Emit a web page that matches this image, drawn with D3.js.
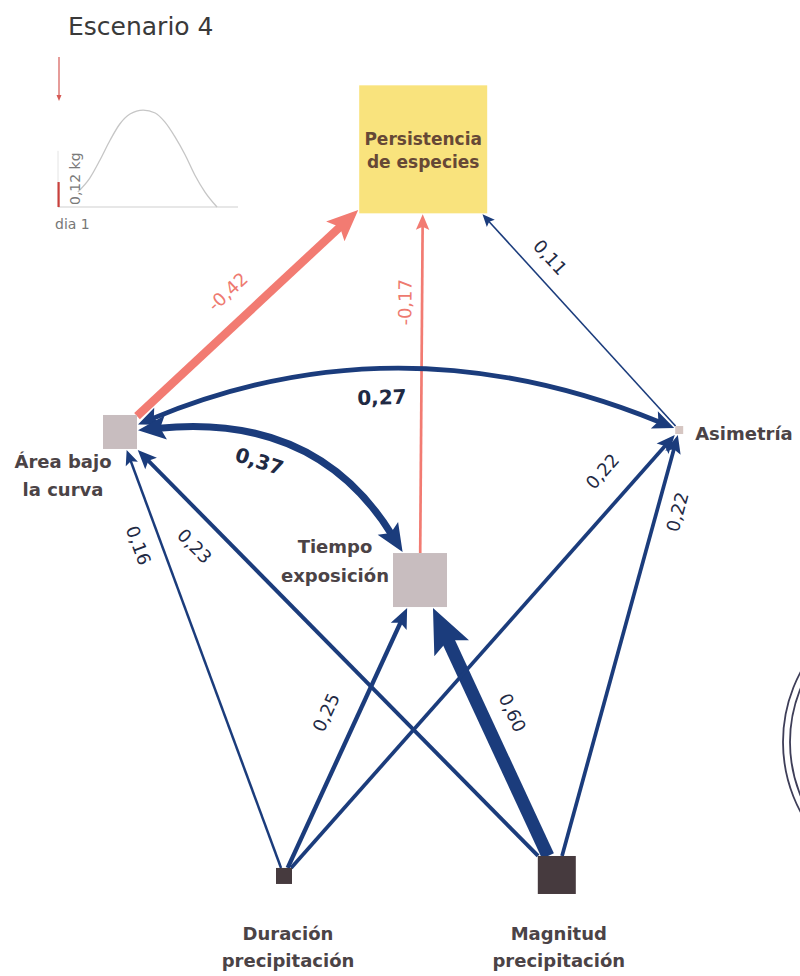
<!DOCTYPE html>
<html>
<head>
<meta charset="utf-8">
<script src="https://cdnjs.cloudflare.com/ajax/libs/d3/7.8.5/d3.min.js"></script>
<style>
body{margin:0;background:#fff;}
svg{display:block;}
</style>
</head>
<body>
<svg id="chart" width="800" height="976"></svg>
<script>
// ---- data ----
var nodeIds = ["pers", "area", "tiempo", "asim", "dur", "mag"];
var nodeLabels = [["Persistencia", "de especies"], ["Área bajo", "la curva"], ["Tiempo", "exposición"],
	["Asimetría"], ["Duración", "precipitación"], ["Magnitud", "precipitación"]];
var nodeWeight = [null, 0.34, 0.54, 0.08, 0.16, 0.38];

// direct paths (coefficients)
var pathFrom = ["area", "tiempo", "asim", "dur", "mag", "dur", "mag", "dur", "mag"];
var pathTo   = ["pers", "pers", "pers", "area", "area", "tiempo", "tiempo", "asim", "asim"];
var pathCoef = [-0.42, -0.17, 0.11, 0.16, 0.23, 0.25, 0.60, 0.22, 0.22];

// covariances (double headed arcs)
var covFrom = ["area", "area"];
var covTo   = ["asim", "tiempo"];
var covCoef = [0.27, 0.37];

// inset: scenario curve
var insetTitle = "Escenario 4";
var insetDay  = [3.3, 5.3, 7, 8.7, 10.3, 12, 14.2, 16.2, 17.8, 19.5, 21.2, 22.8, 24.5, 26.5];
var insetMass = [0.072, 0.139, 0.226, 0.322, 0.399, 0.447, 0.466, 0.452, 0.409, 0.337, 0.25, 0.154, 0.072, 0];
var insetBar = 0.12;

// ---- layout (kept apart from the data) ----
var W = 800, H = 976;
var nodePos = {pers: [0.529, 0.153], area: [0.15, 0.4426], tiempo: [0.525, 0.5943],
	asim: [0.849, 0.4406], dur: [0.355, 0.8975], mag: [0.696, 0.8965]};
var pathLabelT   = [0.5, 0.74, 0.73, 0.79, 0.81, 0.55, 0.53, 0.87, 0.83];
var pathLabelOff = [29, 17, 21, -22, -27, 30, 28, 30, -20];
var covBend = [115, 104];
var covLabelT = [0.46, 0.4];
var covLabelOff = [-26, -21];

var blue = "#1b3c7c", red = "#f27b72";
var font = "DejaVu Sans";

var svg = d3.select("#chart");
var xs = d3.scaleLinear().domain([0, 1]).range([0, W]);
var ys = d3.scaleLinear().domain([0, 1]).range([0, H]);
var sideScale = d3.scaleLinear().domain([0, 1]).range([0, 100]);
var widthScale = d3.scalePow().exponent(1.25).domain([0, 0.6]).range([0, 13]);

var nodes = {};
nodeIds.forEach(function(id, i){
	nodes[id] = {
		id: id,
		x: xs(nodePos[id][0]),
		y: ys(nodePos[id][1]),
		half: id === "pers" ? 64 : sideScale(nodeWeight[i]) / 2,
		lines: nodeLabels[i]
	};
});

// point on the square border of a node, heading toward p
var clip = function(n, p, gap){
	var dx = p[0] - n.x, dy = p[1] - n.y;
	var h = n.half + (gap || 0);
	var t = Math.min(h / Math.abs(dx || 1e-9), h / Math.abs(dy || 1e-9));
	return [n.x + dx * t, n.y + dy * t];
};

var headLen = function(w){ return 8 + 2.8 * w; };
var headPoints = function(tip, dir, w){
	var L = headLen(w), Wd = 7 + 2.4 * w;
	var px = -dir[1], py = dir[0];
	var bx = tip[0] - dir[0] * L, by = tip[1] - dir[1] * L;
	var nx = tip[0] - dir[0] * L * 0.8, ny = tip[1] - dir[1] * L * 0.8;
	return [[tip[0], tip[1]], [bx + px * Wd / 2, by + py * Wd / 2], [nx, ny], [bx - px * Wd / 2, by - py * Wd / 2]];
};

var unit = function(a, b){
	var dx = b[0] - a[0], dy = b[1] - a[1], l = Math.sqrt(dx * dx + dy * dy);
	return [dx / l, dy / l];
};

var readable = function(deg){
	if (deg > 90) deg -= 180;
	if (deg <= -90) deg += 180;
	return deg;
};

// comma decimals, plain hyphen for negatives
var fmt = function(v){ return d3.format(".2f")(v).replace(".", ",").replace("\u2212", "-"); };

var gEdges = svg.append("g");
var gLabels = svg.append("g");

// ---- straight paths ----
pathCoef.forEach(function(c, i){
	var s = nodes[pathFrom[i]], t = nodes[pathTo[i]];
	var a = clip(s, [t.x, t.y], 0);
	var b = clip(t, [s.x, s.y], 1);
	var w = widthScale(Math.abs(c));
	var col = c < 0 ? red : blue;
	var u = unit(a, b);
	var L = headLen(w);
	gEdges.append("line")
		.attr("x1", a[0]).attr("y1", a[1])
		.attr("x2", b[0] - u[0] * L * 0.75).attr("y2", b[1] - u[1] * L * 0.75)
		.attr("stroke", col)
		.attr("stroke-width", w);
	gEdges.append("polygon")
		.attr("points", headPoints(b, u, w).map(function(p){ return p.join(","); }).join(" "))
		.attr("fill", col);

	var tt = pathLabelT[i];
	var mx = a[0] + (b[0] - a[0]) * tt, my = a[1] + (b[1] - a[1]) * tt;
	var ang = readable(Math.atan2(b[1] - a[1], b[0] - a[0]) * 180 / Math.PI);
	var r = ang * Math.PI / 180;
	var off = pathLabelOff[i];
	gLabels.append("text")
		.attr("transform", "translate(" + (mx + Math.sin(r) * off) + "," + (my - Math.cos(r) * off) + ") rotate(" + ang + ")")
		.attr("text-anchor", "middle")
		.attr("dy", "0.35em")
		.attr("font-family", font)
		.attr("font-size", 18)
		.attr("fill", c < 0 ? "#ee7a70" : "#1f2a44")
		.text(fmt(c));
});

// ---- covariance arcs ----
var quad = function(p0, cp, p1, t){
	var m = 1 - t;
	return [m * m * p0[0] + 2 * m * t * cp[0] + t * t * p1[0], m * m * p0[1] + 2 * m * t * cp[1] + t * t * p1[1]];
};
var quadTan = function(p0, cp, p1, t){
	return [2 * (1 - t) * (cp[0] - p0[0]) + 2 * t * (p1[0] - cp[0]), 2 * (1 - t) * (cp[1] - p0[1]) + 2 * t * (p1[1] - cp[1])];
};

covCoef.forEach(function(c, i){
	var s = nodes[covFrom[i]], t = nodes[covTo[i]];
	var dx = t.x - s.x, dy = t.y - s.y, len = Math.sqrt(dx * dx + dy * dy);
	var cp = [(s.x + t.x) / 2 + dy / len * covBend[i], (s.y + t.y) / 2 - dx / len * covBend[i]];
	var a = clip(s, cp, 1), b = clip(t, cp, 1);
	var w = widthScale(Math.abs(c));
	var L = headLen(w);
	var ua = unit(cp, a), ub = unit(cp, b);
	var a2 = [a[0] - ua[0] * L * 0.75, a[1] - ua[1] * L * 0.75];
	var b2 = [b[0] - ub[0] * L * 0.75, b[1] - ub[1] * L * 0.75];
	var p = d3.path();
	p.moveTo(a2[0], a2[1]);
	p.quadraticCurveTo(cp[0], cp[1], b2[0], b2[1]);
	gEdges.append("path")
		.attr("d", p.toString())
		.attr("fill", "none")
		.attr("stroke", blue)
		.attr("stroke-width", w);
	[[a, ua], [b, ub]].forEach(function(h){
		gEdges.append("polygon")
			.attr("points", headPoints(h[0], h[1], w).map(function(q){ return q.join(","); }).join(" "))
			.attr("fill", blue);
	});

	var m = quad(a, cp, b, covLabelT[i]);
	var tg = quadTan(a, cp, b, covLabelT[i]);
	var ang = readable(Math.atan2(tg[1], tg[0]) * 180 / Math.PI);
	var r = ang * Math.PI / 180;
	var off = covLabelOff[i];
	gLabels.append("text")
		.attr("transform", "translate(" + (m[0] + Math.sin(r) * off) + "," + (m[1] - Math.cos(r) * off) + ") rotate(" + ang + ")")
		.attr("text-anchor", "middle")
		.attr("dy", "0.35em")
		.attr("font-family", font)
		.attr("font-weight", "bold")
		.attr("font-size", 20)
		.attr("fill", "#1f2a44")
		.text(fmt(c));
});

// ---- nodes ----
var nodeFill = {pers: "#f9e37d", area: "#c8bdbf", tiempo: "#c8bdbf", asim: "#d6c6c2", dur: "#463a3e", mag: "#463a3e"};
var gNodes = svg.append("g");
nodeIds.forEach(function(id){
	var n = nodes[id];
	gNodes.append("rect")
		.attr("x", n.x - n.half).attr("y", n.y - n.half)
		.attr("width", n.half * 2).attr("height", n.half * 2)
		.attr("fill", nodeFill[id]);
});

// node labels
var labelSpot = {
	pers:   {dx: 0,    dy: -4,  anchor: "middle", lh: 23, color: "#664836", size: 17},
	area:   {dx: -57,  dy: 36,  anchor: "middle", lh: 28, color: "#4b4346", size: 18},
	tiempo: {dx: -85,  dy: -27, anchor: "middle", lh: 29, color: "#4b4346", size: 18},
	asim:   {dx: 16,   dy: 10,  anchor: "start",  lh: 28, color: "#4b4346", size: 18},
	dur:    {dx: 4,    dy: 64,  anchor: "middle", lh: 27, color: "#4b4346", size: 18},
	mag:    {dx: 2,    dy: 65,  anchor: "middle", lh: 27, color: "#4b4346", size: 18}
};
nodeIds.forEach(function(id){
	var n = nodes[id], sp = labelSpot[id];
	var txt = gNodes.append("text")
		.attr("font-family", font)
		.attr("font-weight", "bold")
		.attr("font-size", sp.size)
		.attr("fill", sp.color)
		.attr("text-anchor", sp.anchor);
	n.lines.forEach(function(line, k){
		txt.append("tspan")
			.attr("x", n.x + sp.dx)
			.attr("y", n.y + sp.dy + k * sp.lh)
			.text(line);
	});
});

// ---- inset ----
var gIn = svg.append("g");
var ix = d3.scaleLinear().domain([0, 30]).range([58, 238]);
var iy = d3.scaleLinear().domain([0, 0.5]).range([207, 103]);

gIn.append("text")
	.attr("x", 68).attr("y", 35)
	.attr("font-family", font)
	.attr("font-size", 25)
	.attr("fill", "#3a3a3a")
	.text(insetTitle);

gIn.append("line")
	.attr("x1", ix(0)).attr("x2", ix(0))
	.attr("y1", iy(0)).attr("y2", iy(0.27))
	.attr("stroke", "#e4e4e4").attr("stroke-width", 1);
gIn.append("line")
	.attr("x1", ix(0)).attr("x2", ix(30))
	.attr("y1", iy(0)).attr("y2", iy(0))
	.attr("stroke", "#cfcfcf").attr("stroke-width", 1.2);

var curve = d3.line()
	.x(function(d){ return ix(d[0]); })
	.y(function(d){ return iy(d[1]); })
	.curve(d3.curveMonotoneX);
gIn.append("path")
	.attr("d", curve(insetDay.map(function(d, i){ return [d, insetMass[i]]; })))
	.attr("fill", "none")
	.attr("stroke", "#c6c6c6")
	.attr("stroke-width", 1.3);

gIn.append("rect")
	.attr("x", ix(0) - 0.5).attr("y", iy(insetBar))
	.attr("width", 2.2).attr("height", iy(0) - iy(insetBar))
	.attr("fill", "#c9403c");

// little red arrow above the plot
gIn.append("line")
	.attr("x1", 59).attr("x2", 59).attr("y1", 57).attr("y2", 97)
	.attr("stroke", "#d65a55").attr("stroke-width", 1.2);
gIn.append("polygon")
	.attr("points", "56.5,95 61.5,95 59,101")
	.attr("fill", "#d65a55");

gIn.append("text")
	.attr("transform", "translate(80," + (iy(0) - 2) + ") rotate(-90)")
	.attr("font-family", font)
	.attr("font-size", 14)
	.attr("fill", "#7a7a7a")
	.text(fmt(insetBar) + " kg");

gIn.append("text")
	.attr("x", 55).attr("y", 229)
	.attr("font-family", font)
	.attr("font-size", 14)
	.attr("fill", "#777")
	.text("dia 1");

// ---- partial stamp on the right border ----
var gSt = svg.append("g").attr("fill", "none").attr("stroke", "#3e3e58").attr("stroke-width", 1.8);
[148, 141].forEach(function(r){
	gSt.append("circle").attr("cx", 931).attr("cy", 742).attr("r", r);
});
</script>
</body>
</html>
